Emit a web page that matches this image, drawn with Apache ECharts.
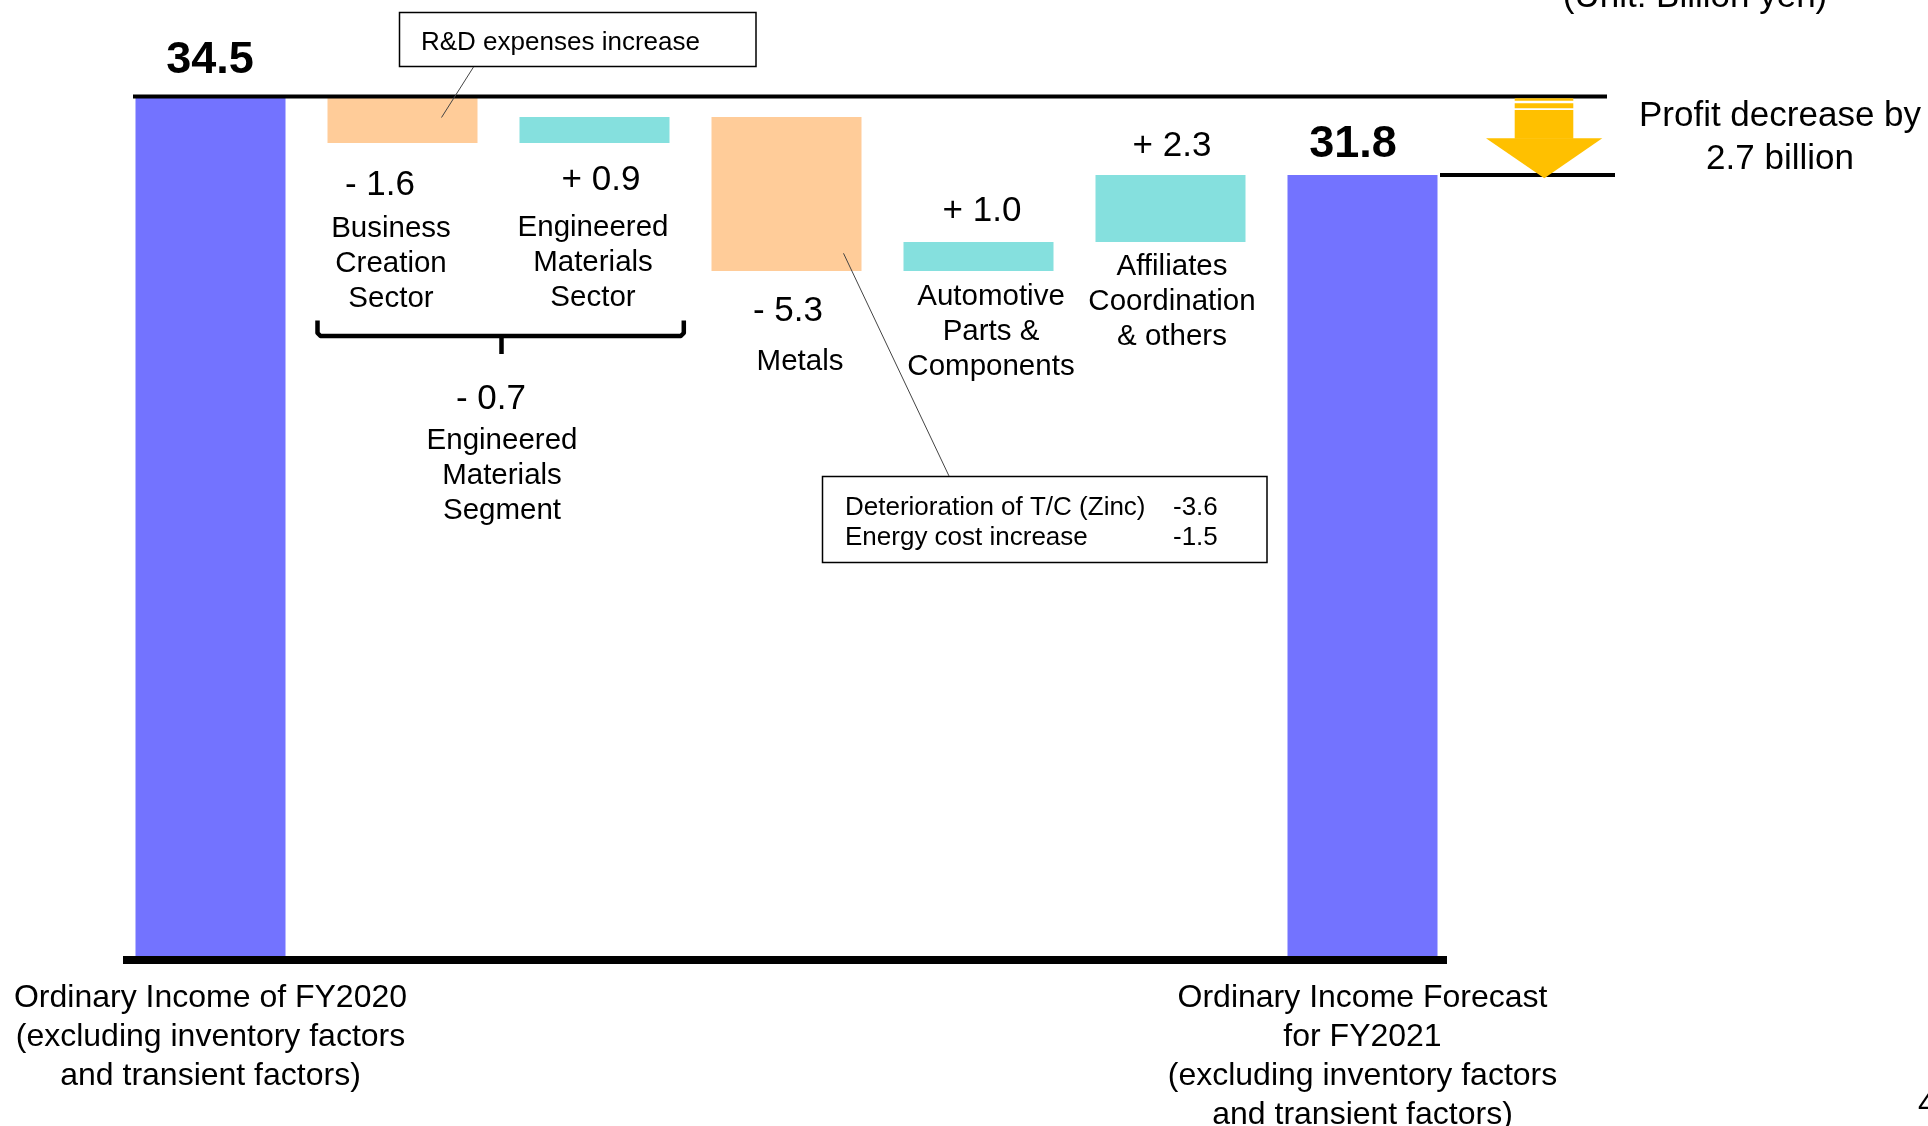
<!DOCTYPE html>
<html><head><meta charset="utf-8">
<script src="https://cdn.jsdelivr.net/npm/echarts@6/dist/echarts.min.js"></script>
<style>html,body{margin:0;padding:0;background:#fff;overflow:hidden}#c{width:1928px;height:1126px}</style>
</head><body><div id="c"></div>
<script>
// ---------------- data ----------------
const categories = [
  'Ordinary Income of FY2020\n(excluding inventory factors\nand transient factors)',
  'Business\nCreation\nSector',
  'Engineered\nMaterials\nSector',
  'Metals',
  'Automotive\nParts &\nComponents',
  'Affiliates\nCoordination\n& others',
  'Ordinary Income Forecast\nfor FY2021\n(excluding inventory factors\nand transient factors)'
];
const startValue = 34.5;
const endValue = 31.8;
const changes = [-1.6, 0.9, -5.3, 1.0, 2.3];
const segmentName = 'Engineered\nMaterials\nSegment';
const segmentMembers = [0, 1];
const metalsBreakdown = [['Deterioration of T/C (Zinc)', -3.6], ['Energy cost increase', -1.5]];
const rdNote = 'R&D expenses increase';
const unitText = '(Unit: Billion yen)';

// ---------------- layout / style ----------------
const FONT = '"Liberation Sans", Arial, sans-serif';
const C_TOTAL = '#7373FF', C_DOWN = '#FFCC99', C_UP = '#85E0DE', C_ARROW = '#FFC000';
const Y_MIN = 4.8, Y_MAX = 36;
const valueLabelLayout = [
  {pos: 'bottom', dist: 25, dx: -22.5},
  {pos: 'bottom', dist: 20, dx: 6.5},
  {pos: 'bottom', dist: 23, dx: 1.5},
  {pos: 'top', dist: 13, dx: 3.5},
  {pos: 'top', dist: 11.5, dx: 1.5}
];
const nameLabelLayout = [
  {dist: 68, dx: -11.5}, {dist: 67, dx: -1.5}, {dist: 73.5, dx: 13.5}, {dist: 8.5, dx: 12.5}, {dist: 7.5, dx: 1.5}
];
const totalLabelLayout = [{dist: 14, dx: -0.5}, {dist: 8, dx: -9.5}];

const fmtChange = v => (v < 0 ? '- ' : '+ ') + Math.abs(v).toFixed(1);

// waterfall stacking
const baseData = ['-'];
const changeData = ['-'];
const totalData = [];
let running = startValue;
changes.forEach((d, k) => {
  const base = d < 0 ? running + d : running;
  running += d;
  const nl = nameLabelLayout[k], vl = valueLabelLayout[k];
  baseData.push({
    value: +base.toFixed(4),
    label: {show: true, position: 'insideTop', distance: nl.dist, offset: [nl.dx, 0],
      formatter: categories[k + 1]}
  });
  changeData.push({
    value: Math.abs(d),
    itemStyle: {color: d < 0 ? C_DOWN : C_UP},
    label: {show: true, position: vl.pos, distance: vl.dist, offset: [vl.dx, 0], formatter: fmtChange(d)}
  });
});
baseData.push('-');
changeData.push('-');
const totals = [startValue, '-', '-', '-', '-', '-', endValue];
totals.forEach((v, i) => {
  if (v === '-') { totalData.push('-'); return; }
  const L = totalLabelLayout[i === 0 ? 0 : 1];
  totalData.push({value: v, label: {show: true, position: 'top', distance: L.dist, offset: [L.dx, 0]}});
});

const option = {
  animation: false,
  backgroundColor: '#fff',
  textStyle: {fontFamily: FONT},
  grid: {left: 114.5, right: 469.5, top: 53, bottom: 166, containLabel: false, outerBoundsMode: 'none'},
  xAxis: {
    type: 'category', data: categories,
    axisTick: {show: false},
    axisLine: {show: false},
    axisLabel: {
      interval: 0, margin: 18.5, color: '#000', fontSize: 32, lineHeight: 39, fontFamily: FONT,
      formatter: (v, i) => (i === 0 || i === categories.length - 1) ? v : ''
    }
  },
  yAxis: {type: 'value', min: Y_MIN, max: Y_MAX, show: false, splitLine: {show: false}},
  series: [
    {
      name: 'base', type: 'bar', stack: 'w', barWidth: 150, silent: true,
      itemStyle: {color: 'transparent'},
      label: {color: '#000', fontSize: 29.5, lineHeight: 35, fontFamily: FONT, align: 'center'},
      emphasis: {disabled: true},
      data: baseData
    },
    {
      name: 'change', type: 'bar', stack: 'w', barWidth: 150, silent: true,
      label: {color: '#000', fontSize: 35, lineHeight: 35, fontFamily: FONT},
      emphasis: {disabled: true},
      data: changeData
    },
    {
      name: 'total', type: 'bar', stack: 'w', barWidth: 150, silent: true,
      itemStyle: {color: C_TOTAL},
      label: {color: '#000', fontSize: 45, lineHeight: 45, fontWeight: 'bold', fontFamily: FONT,
        formatter: p => p.value.toFixed(1)},
      emphasis: {disabled: true},
      data: totalData
    }
  ]
};

const chart = echarts.init(document.getElementById('c'), null, {renderer: 'canvas', width: 1928, height: 1126});
chart.setOption(option);

const yTop = chart.convertToPixel({yAxisIndex: 0}, startValue);
const yEnd = chart.convertToPixel({yAxisIndex: 0}, endValue);
const yBase = chart.convertToPixel({yAxisIndex: 0}, Y_MIN);
const segSum = segmentMembers.reduce((s, k) => s + changes[k], 0);
const diff = endValue - startValue;
const txt = (x, y, text, size, extra) => Object.assign({
  type: 'text', x, y, z: 100,
  style: Object.assign({text, fill: '#000', fontSize: size, fontFamily: FONT, align: 'center', verticalAlign: 'middle'}, extra || {})
});
const ln = (x1, y1, x2, y2, w, color) => ({type: 'line', z: 100, shape: {x1, y1, x2, y2}, style: {stroke: color || '#000', lineWidth: w}});
const rect = (x, y, w, h, fill) => ({type: 'rect', z: 100, shape: {x, y, width: w, height: h}, style: {fill}});

const ax1 = 1514.7, ax2 = 1573.3, hx1 = 1486, hx2 = 1602.3, tipX = 1544.3;
const graphics = [
  ln(123, yBase, 1447, yBase, 8),
  ln(133, yTop, 1607, yTop, 4),
  ln(1440, yEnd, 1615, yEnd, 4),
  rect(ax1, yTop + 1.7, ax2 - ax1, 2.4, C_ARROW),
  rect(ax1, yTop + 6.7, ax2 - ax1, 5, C_ARROW),
  rect(ax1, yTop + 13.4, ax2 - ax1, (yEnd - 36.8) - (yTop + 13.4) + 0.5, C_ARROW),
  {type: 'polygon', z: 100, shape: {points: [[hx1, yEnd - 36.8], [hx2, yEnd - 36.8], [tipX, yEnd + 3.2]]}, style: {fill: C_ARROW}},
  txt(1780, 137.5, 'Profit ' + (diff < 0 ? 'decrease' : 'increase') + ' by\n' + Math.abs(diff).toFixed(1) + ' billion', 35, {lineHeight: 43}),
  txt(1695, -3, unitText, 35),
  // R&D callout
  {type: 'rect', z: 100, shape: {x: 399.5, y: 12.5, width: 356.5, height: 54}, style: {fill: '#fff', stroke: '#000', lineWidth: 1.5}},
  txt(421, 43, rdNote, 26, {align: 'left'}),
  ln(473.5, 67, 441.5, 117.5, 1, '#444'),
  // Metals callout
  {type: 'rect', z: 100, shape: {x: 822.5, y: 476.5, width: 444.5, height: 86}, style: {fill: '#fff', stroke: '#000', lineWidth: 1.5}},
  ln(843.5, 253.3, 949, 476, 1, '#444'),
  // brace
  {type: 'polyline', z: 100, shape: {points: [[317.5, 320.5], [317.5, 333], [320.5, 336], [680.8, 336], [683.8, 333], [683.8, 320.5]]},
    style: {stroke: '#000', lineWidth: 4.5, fill: null, lineJoin: 'round'}},
  ln(501.5, 336, 501.5, 354, 4.5),
  txt(491, 399, fmtChange(segSum), 35),
  txt(502, 423.5, segmentName, 29.5, {lineHeight: 35, verticalAlign: 'top'}),
  txt(1918, 1105, '4', 32, {align: 'left'})
];
metalsBreakdown.forEach((r, k) => {
  const y = 507.7 + k * 30.5;
  graphics.push(txt(845, y, r[0], 26, {align: 'left'}));
  graphics.push(txt(1173, y, r[1].toFixed(1), 26, {align: 'left'}));
});
chart.setOption({graphic: graphics});
</script></body></html>
